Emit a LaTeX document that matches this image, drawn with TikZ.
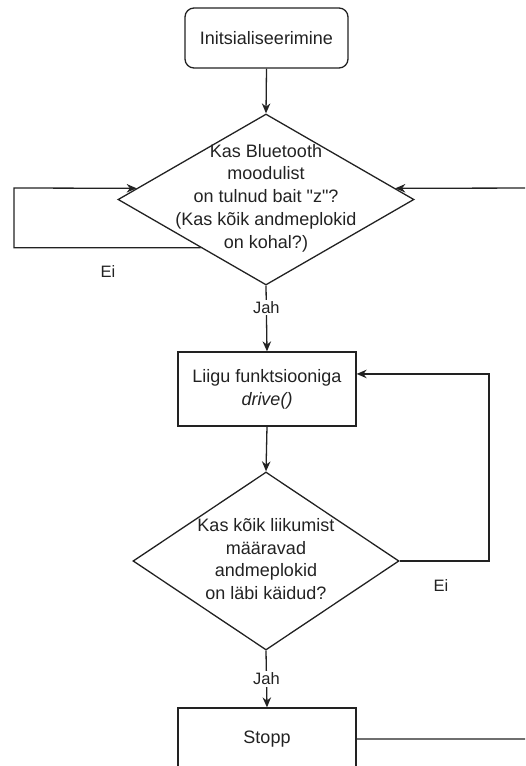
\documentclass[tikz,border=0pt]{standalone}
\usepackage{fontspec}
\setmainfont{Liberation Sans}
\newfontfamily\plainsans{Liberation Sans}
\usetikzlibrary{shapes.geometric,arrows.meta,calc}
\definecolor{ink}{RGB}{34,34,34}
\begin{document}
\begin{tikzpicture}[x=1pt,y=-1pt,
  line width=1.3pt,
  every node/.style={text=ink},
  mainfont/.style={font=\plainsans\fontsize{18}{22.7}\selectfont},
  labelfont/.style={font=\plainsans\fontsize{16.5}{20}\selectfont},
  roundbox/.style={draw=ink,rounded corners=9pt,minimum width=163pt,minimum height=60pt,inner sep=0pt,mainfont},
  procbox/.style={draw=ink,minimum width=178pt,inner sep=0pt,mainfont,align=center},
  decision/.style={draw=ink,diamond,inner sep=0pt},
  dtext/.style={mainfont,align=center,inner sep=0pt},
  elabel/.style={labelfont,fill=white,inner sep=1.5pt},
  flow/.style={draw=ink,-{Stealth[length=10pt,width=8.5pt]}},
]
\useasboundingbox (0,0) rectangle (525,766);
\clip (0,0) rectangle (525,766);

\node[roundbox] (init) at (266.5,38) {Initsialiseerimine};

\node[decision,minimum width=296pt,minimum height=171pt] (d1) at (266,199.5) {};
\node[dtext] (d1t) at (266,198) {Kas Bluetooth\\moodulist\\on tulnud bait "z"?\\(Kas kõik andmeplokid\\on kohal?)};

\node[procbox,minimum height=74pt] (move) at (267,389) {Liigu funktsiooniga\\\textit{drive()}};

\node[decision,minimum width=266pt,minimum height=178pt] (d2) at (266,561) {};
\node[dtext] (d2t) at (266,559) {Kas kõik liikumist\\määravad\\andmeplokid\\on läbi käidud?};

\node[procbox,minimum height=62pt] (stopp) at (267,739) {Stopp};

\coordinate (d1out) at ($(d1.west)!0.56!(d1.south)$);
\coordinate (d1inL) at ($(d1.west)!0.13!(d1.north)$);
\coordinate (d1inR) at ($(d1.east)!0.13!(d1.north)$);
\coordinate (leftcorner) at (14,188);
\coordinate (rightcol) at (545,188);
\coordinate (loopcol) at (489,561);
\coordinate (movein) at ($(move.north east)!0.3!(move.south east)$);

\draw[flow] (init.south) -- (d1.north);
\draw[flow] (d1out) -| (leftcorner) -- (d1inL);
\node[labelfont] (ei1) at (108,272) {Ei};
\draw[flow] (d1.south) -- node[elabel,pos=0.33] (jah1) {Jah} (move.north);
\draw[flow] (move.south) -- (d2.north);
\draw[flow] (d2.east) -- (loopcol) |- (movein);
\node[labelfont] (ei2) at (441,586) {Ei};
\draw[flow] (d2.south) -- node[elabel,pos=0.5] (jah2) {Jah} (stopp.north);
\draw[flow] (stopp.east) -- (stopp.east -| rightcol) -- (rightcol) -- (d1inR);
\end{tikzpicture}
\end{document}
